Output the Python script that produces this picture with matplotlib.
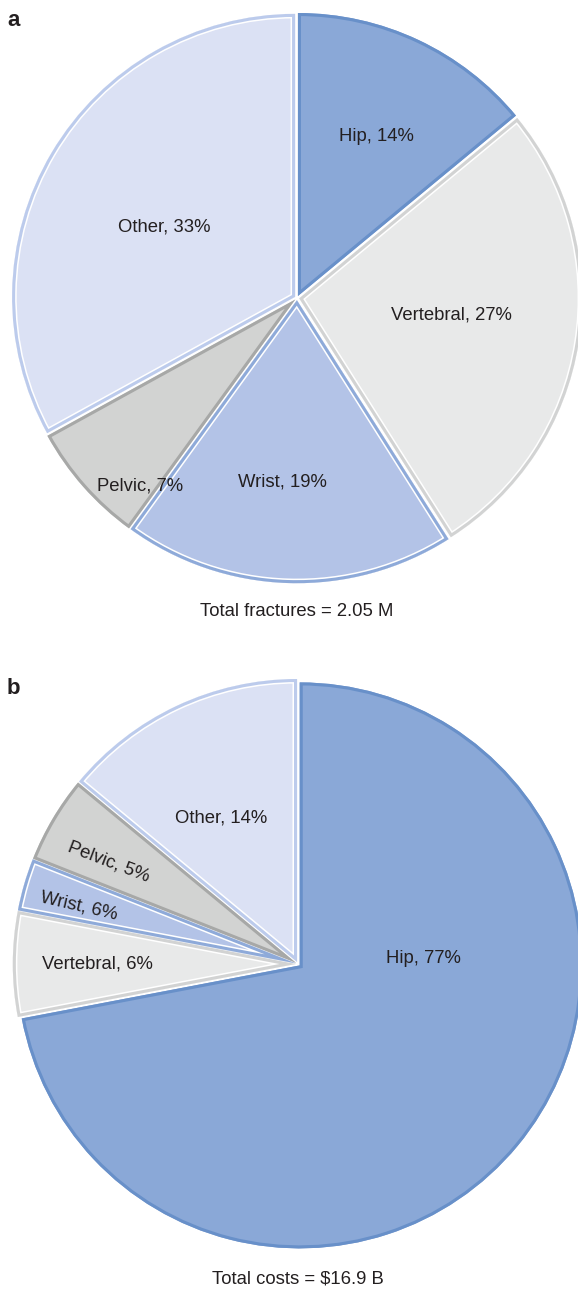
import matplotlib
matplotlib.use("Agg")
import matplotlib.pyplot as plt
from matplotlib.patches import Wedge
import numpy as np

plt.rcParams['font.family'] = ['Liberation Sans', 'DejaVu Sans']

# ---------------- data ----------------
categories = ["Hip", "Vertebral", "Wrist", "Pelvic", "Other"]
fracture_share = [14, 27, 19, 7, 33]              # panel a (% of 2.05 M fractures)
fracture_labels = ["14%", "27%", "19%", "7%", "33%"]
cost_share = [72, 6, 3, 5, 14]                    # panel b (wedge sizes as drawn)
cost_labels = ["77%", "6%", "6%", "5%", "14%"]    # percentages as printed
title_a = "Total fractures = 2.05 M"
title_b = "Total costs = $16.9 B"

# ---------------- style ----------------
fills = ["#8aa8d7", "#e8e9e9", "#b3c3e7", "#d2d3d2", "#dbe1f4"]
edges = ["#6890c9", "#d2d3d3", "#8eaad9", "#a7a8a7", "#bccbec"]
inner_white = [False, True, True, False, True]
W, H = 578, 1293
R = 283
GAP = 2.2  # px

fig = plt.figure(figsize=(W / 100, H / 100), dpi=100)
ax = fig.add_axes([0, 0, 1, 1])
ax.set_xlim(0, W)
ax.set_ylim(0, H)
ax.axis('off')


def draw_pie(values, center_px, texts, label_pos, rotations, caption, caption_y, letter, letter_y):
    cx, cy = center_px[0], H - center_px[1]
    wedges, _ = ax.pie(values, colors=fills, startangle=90, counterclock=False,
                       center=(cx, cy), radius=R, explode=[GAP] * len(values),
                       wedgeprops=dict(linewidth=0), normalize=True)
    for w, ec, iw in zip(wedges, edges, inner_white):
        w.set_clip_path(w)
        if iw:
            wh = Wedge(w.center, w.r, w.theta1, w.theta2, facecolor='none',
                       edgecolor='white', linewidth=6.6, zorder=w.get_zorder() + 0.1)
            ax.add_patch(wh)
            wh.set_clip_path(wh)
        ol = Wedge(w.center, w.r, w.theta1, w.theta2, facecolor='none',
                   edgecolor=ec, linewidth=4.4, joinstyle='miter', zorder=w.get_zorder() + 0.2)
        ax.add_patch(ol)
        ol.set_clip_path(ol)
    for name, txt, (dx, dy), rot in zip(categories, texts, label_pos, rotations):
        ax.text(cx + dx * R, cy + dy * R, f"{name}, {txt}", ha='center', va='center',
                fontsize=13.3, color='#231f20', rotation=rot, rotation_mode='anchor', zorder=5)
    ax.text(cx, H - caption_y, caption, ha='center', va='center', fontsize=13.3, color='#231f20')
    ax.text(7, H - letter_y, letter, ha='left', va='center', fontsize=16,
            fontweight='bold', color='#231f20')


# label offsets relative to pie centre (in radius units, y up)
pos_a = [(0.28, 0.57), (0.545, -0.06), (-0.05, -0.65), (-0.555, -0.665), (-0.47, 0.25)]
rot_a = [0, 0, 0, 0, 0]
pos_b = [(0.445, 0.02), (-0.71, 0.0), (-0.775, 0.205), (-0.67, 0.36), (-0.27, 0.515)]
rot_b = [0, 0, -13, -21, 0]

draw_pie(fracture_share, (297, 298), fracture_labels, pos_a, rot_a, title_a, 612, "a", 20)
draw_pie(cost_share, (298, 964), cost_labels, pos_b, rot_b, title_b, 1279, "b", 688)

ax.set_xlim(0, W)
ax.set_ylim(0, H)
ax.set_aspect('auto')
fig.savefig("out.png", dpi=100)
